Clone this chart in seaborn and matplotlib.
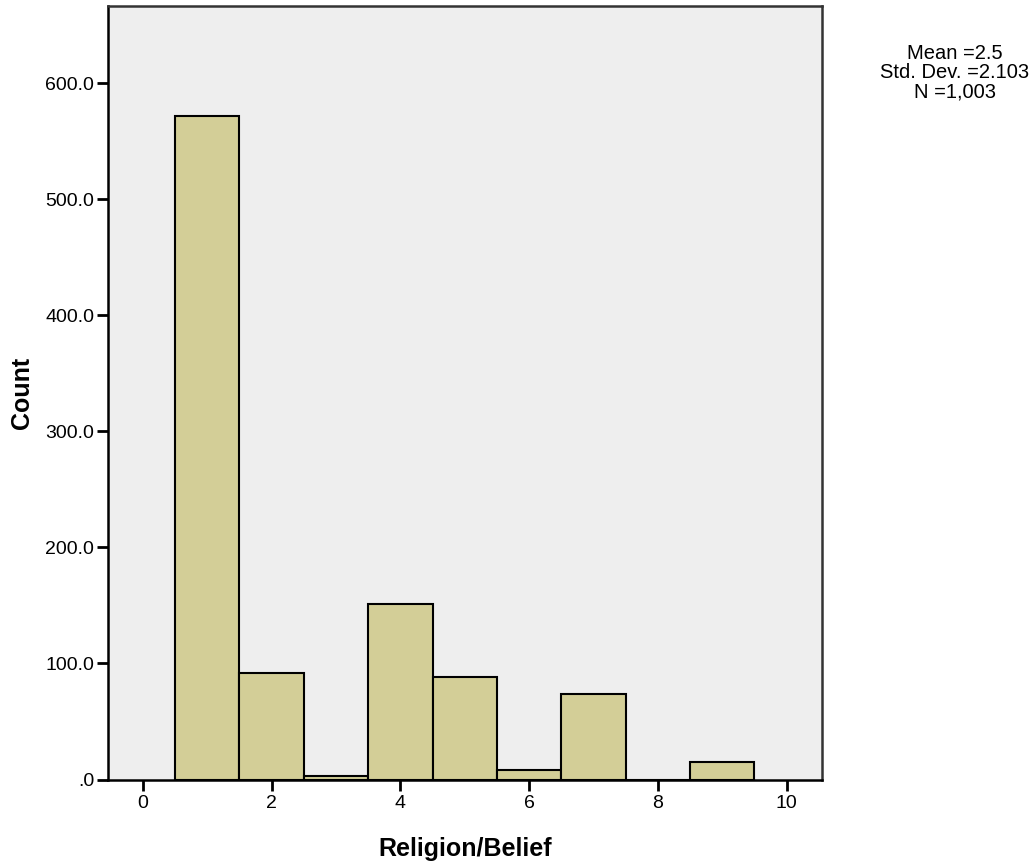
import numpy as np
import pandas as pd
import matplotlib
matplotlib.use("Agg")
import matplotlib.pyplot as plt
import seaborn as sns
from matplotlib.ticker import FuncFormatter

# values of Religion/Belief and their counts
religion = [1, 2, 3, 4, 5, 6, 7, 8, 9]
counts = [572, 92, 3, 151, 88, 8, 74, 0, 15]
stats_text = ["Mean =2.5", "Std. Dev. =2.103", "N =1,003"]

df = pd.DataFrame({"religion": religion, "count": counts})

sns.set_style("white")
plt.rcParams["font.family"] = ["Liberation Sans", "DejaVu Sans"]
plt.rcParams["text.color"] = "black"
plt.rcParams["axes.labelcolor"] = "black"
plt.rcParams["xtick.color"] = "black"
plt.rcParams["ytick.color"] = "black"

fig = plt.figure(figsize=(10.34, 8.67), dpi=100)
ax = fig.add_axes([107.5 / 1034, 1 - 779.5 / 867, (822 - 107.5) / 1034, (779.5 - 5.5) / 867])
ax.set_facecolor("#eeeeee")

sns.histplot(data=df, x="religion", weights="count", discrete=True,
             color="#d3ce97", edgecolor="black", linewidth=1.5, alpha=1,
             ax=ax)

ax.set_xlim(-0.55, 10.55)
ax.set_ylim(0, 667)
ax.set_xticks([0, 2, 4, 6, 8, 10])
ax.set_yticks([0, 100, 200, 300, 400, 500, 600])
ax.yaxis.set_major_formatter(FuncFormatter(lambda v, p: ".0" if v == 0 else f"{v:.1f}"))
ax.tick_params(axis="both", direction="out", length=8, width=2, color="black",
               labelsize=14, pad=3, left=True, bottom=True)
ax.tick_params(axis="y", pad=1.5)

for s in ax.spines.values():
    s.set_color("black")
    s.set_linewidth(1.8)
ax.spines["top"].set_color("#333333")
ax.spines["right"].set_color("#333333")

ax.set_xlabel("Religion/Belief", fontsize=18, fontweight="bold", labelpad=18)
ax.set_ylabel("Count", fontsize=18, fontweight="bold", labelpad=8)

fig.text(955 / 1034, 1 - 73 / 867, "\n".join(stats_text), ha="center", va="center",
         fontsize=14.5, linespacing=1.02)

fig.savefig("out.png", dpi=100)
